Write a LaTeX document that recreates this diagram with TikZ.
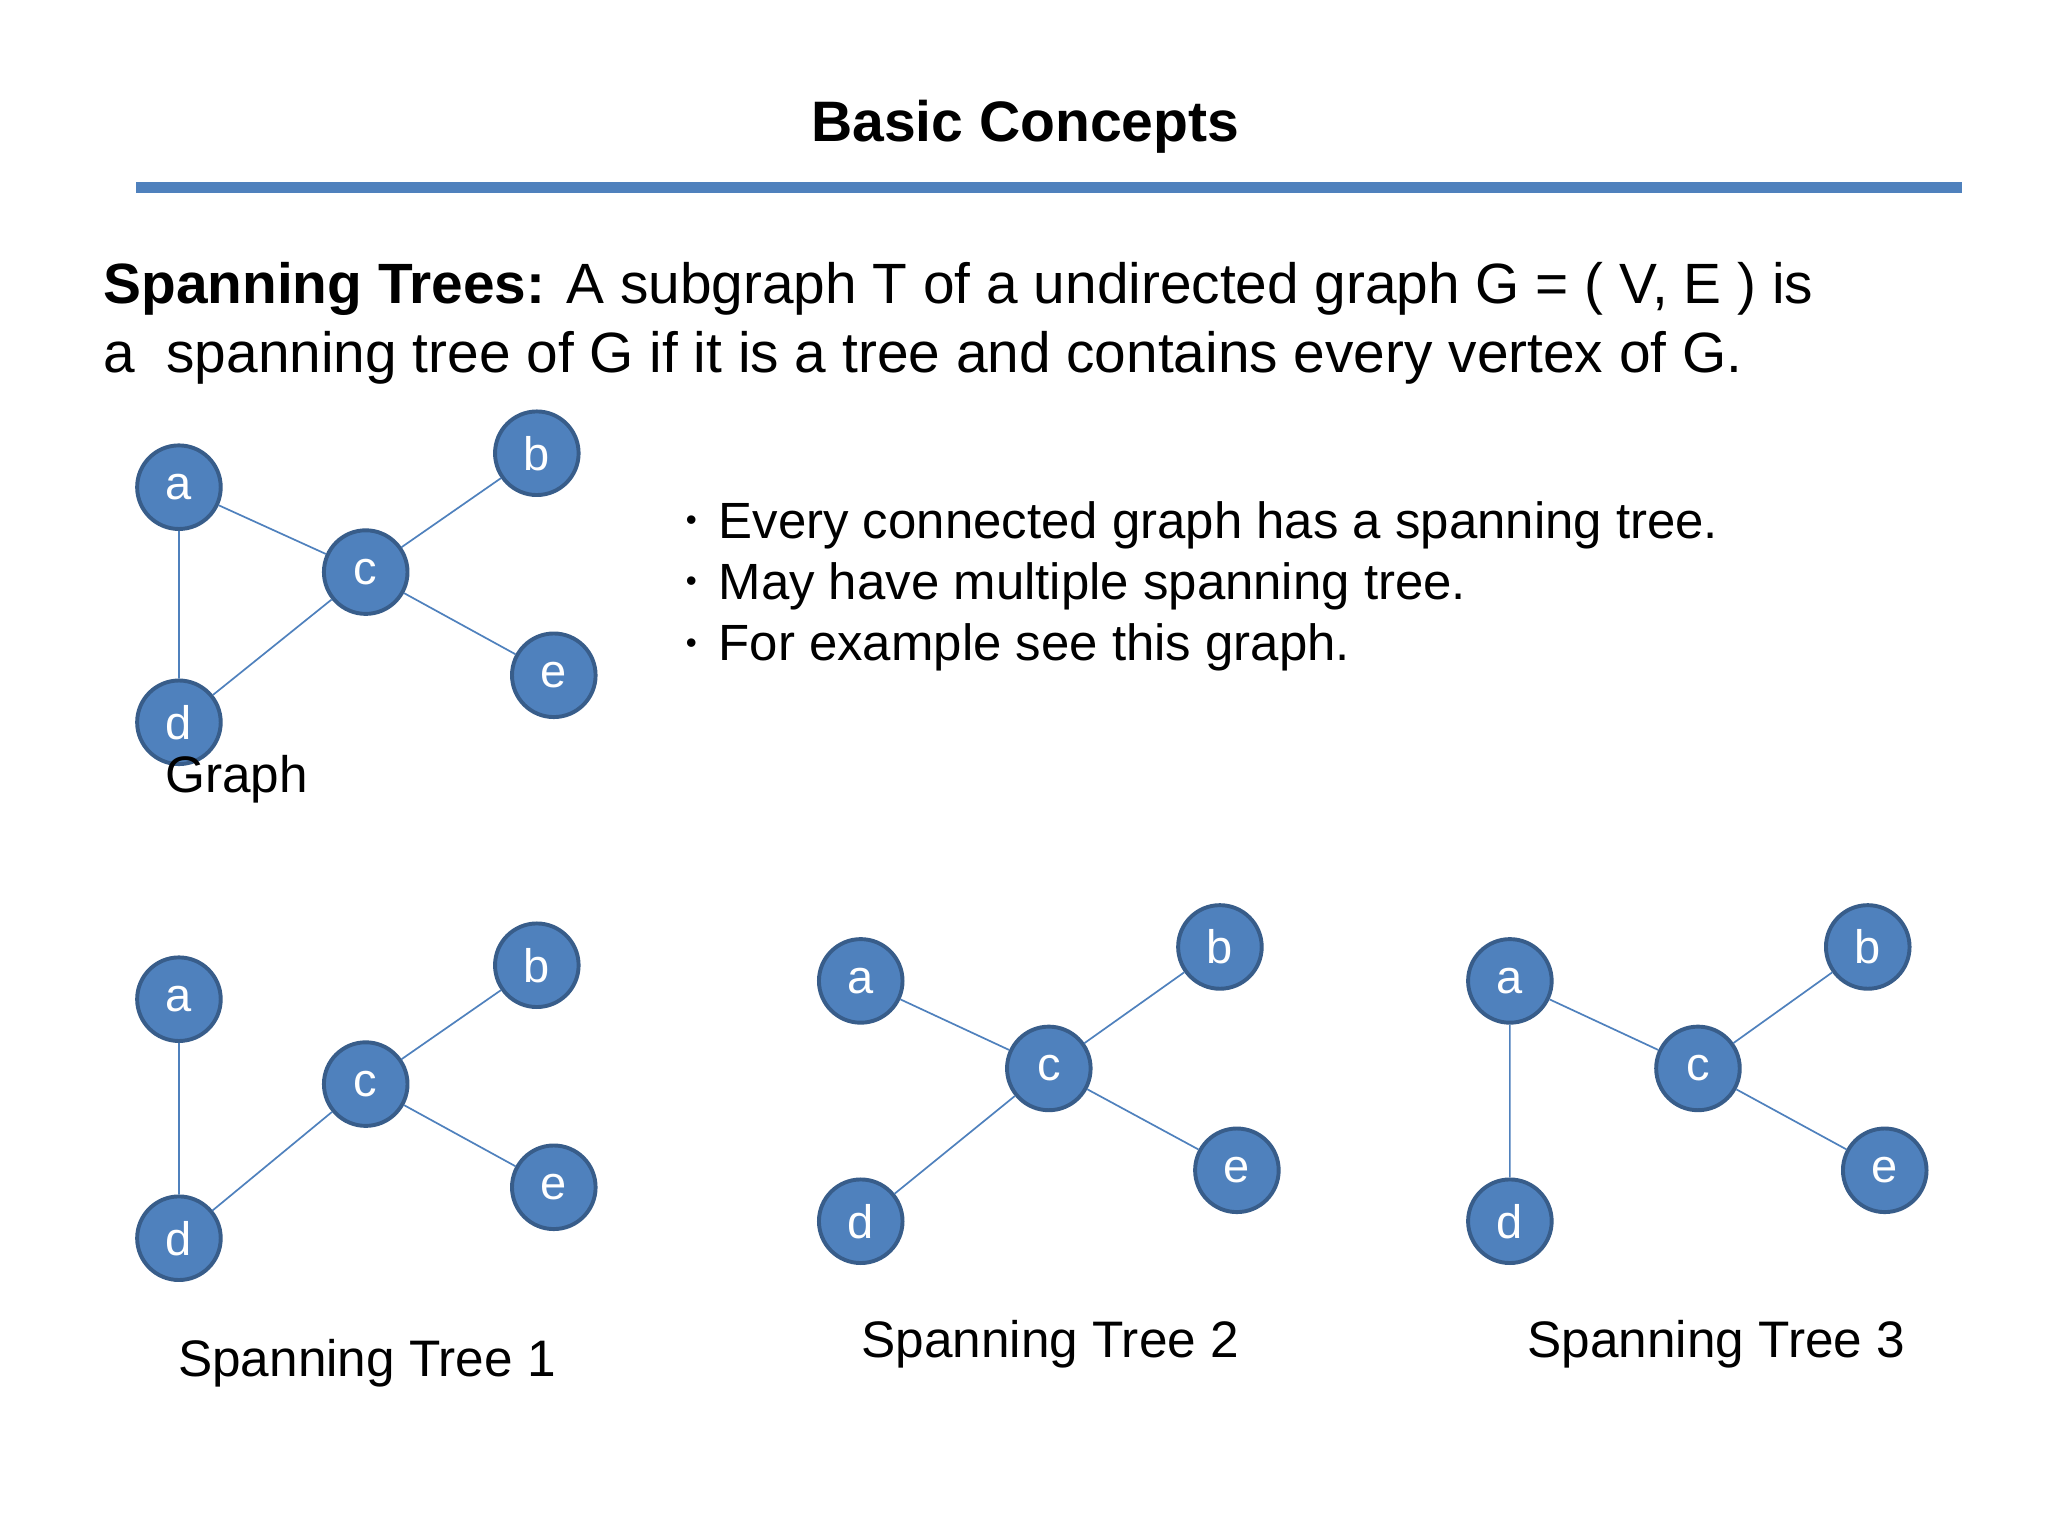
\documentclass[tikz,border=0pt]{standalone}
\usepackage{fontspec}
\setmainfont{Liberation Sans}
\begin{document}
\begin{tikzpicture}[x=1pt,y=-1pt,
 vtx/.style={circle,draw=blueborder,line width=3pt,fill=bluefill,minimum size=64pt,inner sep=0pt,text=white,font=\fontsize{36}{40}\selectfont},
 edge/.style={draw=bluefill,line width=1.3pt},
 lbl/.style={font=\fontsize{39.3}{44}\selectfont,anchor=base},
 para/.style={anchor=base west,font=\fontsize{43.5}{50}\selectfont,inner sep=0pt},
 bul/.style={anchor=base west,font=\fontsize{39}{44}\selectfont,inner sep=0pt},
 dot/.style={anchor=base west,font=\fontsize{24}{28}\selectfont,inner sep=0pt}]
\definecolor{bluefill}{HTML}{4F81BD}
\definecolor{blueborder}{HTML}{385D8A}
\useasboundingbox (0,0) rectangle (1568,1176);
\fill[white] (0,0) rectangle (1568,1176);
\node[font=\bfseries\fontsize{43.7}{48}\selectfont] (title) at (785,97) {Basic Concepts};
\fill[bluefill] (104,139) rectangle (1502,148);
\node[para] (def1) at (79,232) {\textbf{Spanning Trees:} A subgraph T of a undirected graph G = ( V, E ) is};
\node[para] (def2) at (79,285) {a \ spanning tree of G if it is a tree and contains every vertex of G.};
\node[dot] (d1) at (525,406) {•};
\node[bul] (b1) at (550,412) {Every connected graph has a spanning tree.};
\node[dot] (d2) at (525,453) {•};
\node[bul] (b2) at (550,459) {May have multiple spanning tree.};
\node[dot] (d3) at (525,500) {•};
\node[bul] (b3) at (550,506) {For example see this graph.};
% Graph
\node[vtx] (a) at (137,373) {a};
\node[vtx] (b) at (411,347) {b};
\node[vtx] (c) at (280,438) {c};
\node[vtx] (d) at (137,553) {d};
\node[vtx] (e) at (424,517) {e};
\draw[edge] (a)--(c) (c)--(b) (c)--(e) (c)--(d) (a)--(d);
\node[lbl] (gl) at (181,607) {Graph};
% Tree 1
\node[vtx] (a1) at (137,765) {a};
\node[vtx] (b1n) at (411,739) {b};
\node[vtx] (c1) at (280,830) {c};
\node[vtx] (d1n) at (137,948) {d};
\node[vtx] (e1) at (424,909) {e};
\draw[edge] (a1)--(d1n) (c1)--(b1n) (c1)--(e1) (c1)--(d1n);
\node[lbl] (l1) at (281,1054) {Spanning Tree 1};
% Tree 2
\node[vtx] (a2) at (659,751) {a};
\node[vtx] (b2n) at (934,725) {b};
\node[vtx] (c2) at (803,818) {c};
\node[vtx] (d2n) at (659,935) {d};
\node[vtx] (e2) at (947,896) {e};
\draw[edge] (a2)--(c2) (c2)--(b2n) (c2)--(e2) (c2)--(d2n);
\node[lbl] (l2) at (804,1039) {Spanning Tree 2};
% Tree 3
\node[vtx] (a3) at (1156,751) {a};
\node[vtx] (b3n) at (1430,725) {b};
\node[vtx] (c3) at (1300,818) {c};
\node[vtx] (d3n) at (1156,935) {d};
\node[vtx] (e3) at (1443,896) {e};
\draw[edge] (a3)--(d3n) (a3)--(c3) (c3)--(b3n) (c3)--(e3);
\node[lbl] (l3) at (1314,1039) {Spanning Tree 3};
\end{tikzpicture}
\end{document}
